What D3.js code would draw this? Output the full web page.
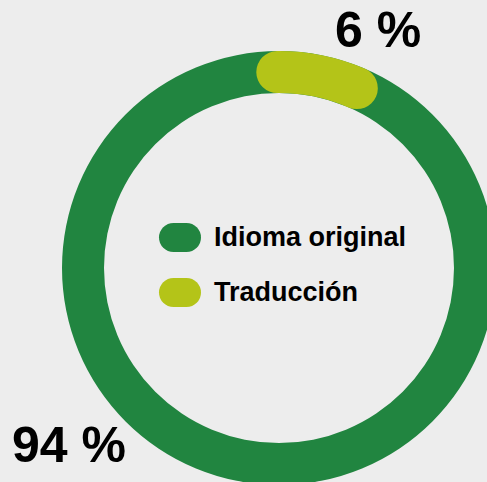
<!DOCTYPE html>
<html>
<head>
<meta charset="utf-8">
<script src="https://cdn.jsdelivr.net/npm/d3@7"></script>
<style>
  html, body { margin: 0; padding: 0; background: #ededed; }
  svg { display: block; }
  text { font-family: "Liberation Sans", Arial, Helvetica, sans-serif; font-weight: bold; fill: #000; }
</style>
</head>
<body>
<script>
// ---- data ----
const categories = ["Idioma original", "Traducción"];
const values = [94, 6];
const valueLabels = ["94 %", "6 %"];
const colors = ["#218540", "#b4c418"];

// ---- layout ----
const W = 487, H = 482;
const cx = 279, cy = 268;
const rOuter = 217, rInner = 175;
const rMid = (rOuter + rInner) / 2;
const thick = rOuter - rInner;

const svg = d3.select("body").append("svg").attr("width", W).attr("height", H);
svg.append("rect").attr("width", W).attr("height", H).attr("fill", "#ededed");

const g = svg.append("g").attr("transform", `translate(${cx},${cy})`);

const total = d3.sum(values);
const angle = d3.scaleLinear().domain([0, total]).range([0, 2 * Math.PI]);

// full green track (Idioma original)
const ringArc = d3.arc().innerRadius(rInner).outerRadius(rOuter);
g.append("path")
  .attr("d", ringArc({ startAngle: 0, endAngle: angle(total) }))
  .attr("fill", colors[0]);

// yellow segment with round caps (Traducción), starting at 12 o'clock
const capPadStart = -0.5 * Math.PI / 180;
const capPadEnd = 1.8 * Math.PI / 180;
const a0 = angle(0) + capPadStart;
const a1 = angle(values[1]) + capPadEnd;
const p = d3.path();
p.arc(0, 0, rMid, a0 - Math.PI / 2, a1 - Math.PI / 2);
g.append("path")
  .attr("d", p.toString())
  .attr("fill", "none")
  .attr("stroke", colors[1])
  .attr("stroke-width", thick)
  .attr("stroke-linecap", "round");

// value labels
svg.append("text").attr("x", 335).attr("y", 47)
  .style("font-size", "50px").text(valueLabels[1]);
svg.append("text").attr("x", 12).attr("y", 462)
  .style("font-size", "50px").text(valueLabels[0]);

// legend
const legendY = [237.5, 292.5];
const lg = svg.append("g");
categories.forEach((c, i) => {
  lg.append("rect")
    .attr("x", 159).attr("y", legendY[i] - 14.5)
    .attr("width", 42).attr("height", 29)
    .attr("rx", 14.5).attr("ry", 14.5)
    .attr("fill", colors[i]);
  lg.append("text")
    .attr("x", 214).attr("y", legendY[i] + 8.5)
    .style("font-size", "27px")
    .text(c);
});
</script>
</body>
</html>
